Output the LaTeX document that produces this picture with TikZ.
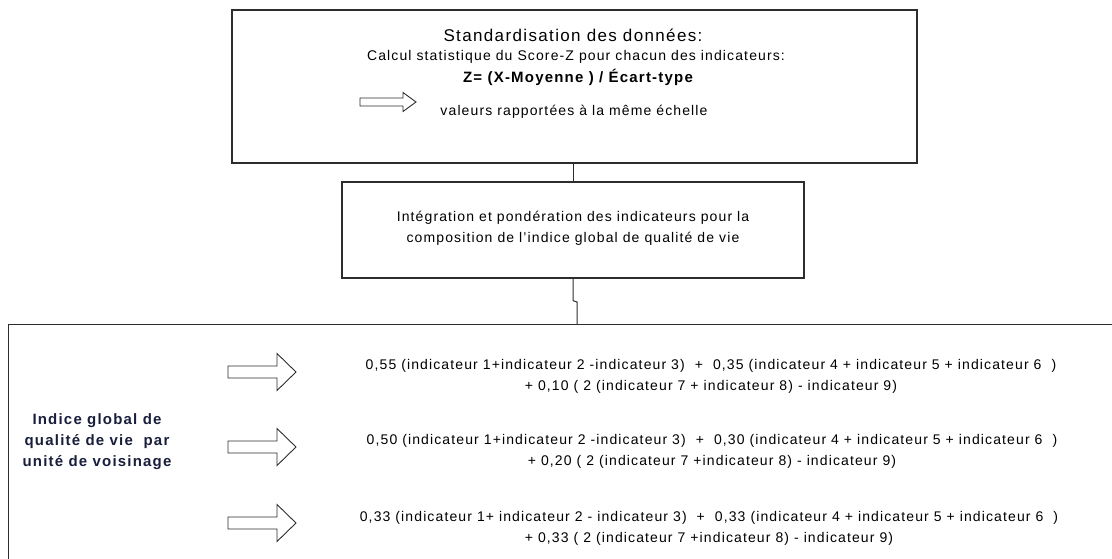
\documentclass[tikz,border=0pt]{standalone}
\usepackage{fontspec}
\setmainfont[LetterSpace=8]{Liberation Sans}
\usepackage{tikz}
\definecolor{darknavy}{RGB}{25,30,60}
\definecolor{linegray}{RGB}{45,45,45}
\tikzset{
	boxline/.style={draw=linegray,line width=1.4pt},
	link/.style={draw=linegray,line width=1pt},
	arrowline/.style={draw=linegray,line width=0.9pt,fill=white,line join=miter},
	plain/.style={inner sep=0pt,align=center,font=\fontsize{14}{21}\selectfont},
	heading/.style={inner sep=0pt,font=\fontsize{17}{21}\selectfont},
	strong/.style={inner sep=0pt,align=center,text=darknavy,font=\fontsize{15}{21}\selectfont\bfseries},
	pics/widearrow/.style={code={
		\draw[arrowline] (-34,-6) -- (15,-6) -- (15,-18.5) -- (34,0) -- (15,18.5) -- (15,6) -- (-34,6) -- cycle;
	}},
	pics/thinarrow/.style={code={
		\draw[arrowline] (-28,-4) -- (15,-4) -- (15,-9.5) -- (28,0) -- (15,9.5) -- (15,4) -- (-28,4) -- cycle;
	}}
}

\begin{document}
\begin{tikzpicture}[x=1pt,y=-1pt]
				\useasboundingbox (0,0) rectangle (1112,559);
				\clip (0,0) rectangle (1112,559);
				
				%Boxes
				\node[boxline,minimum width=685,minimum height=153,inner sep=0pt] (topbox) at (574.5,86.5) {};
				\node[boxline,minimum width=462,minimum height=96,inner sep=0pt] (midbox) at (573,230) {};
				\node[boxline,anchor=north west,minimum width=1140,minimum height=280,inner sep=0pt] (bottombox) at (8,324) {};
				
				%Nodes
				\node[heading] (title) at (573,35) {Standardisation des données:};
				\node[plain] (calcul) at (576,57) {Calcul statistique du Score-Z pour chacun des indicateurs:};
				\node[strong,text=black] (zscore) at (578,77) {Z= (X-Moyenne ) / Écart-type};
				\node[plain] (valeurs) at (574,112) {valeurs rapportées à la même échelle};
				\node[plain] (integration) at (573,228) {Intégration et pondération des indicateurs pour la\\composition de l'indice global de qualité de vie};
				
				\node[strong] (indice) at (97,442) {Indice global de\\qualité de vie~~par\\unité de voisinage};
				\node[plain] (formuleA) at (711,376) {0,55 (indicateur 1+indicateur 2 -indicateur 3)~~+~~0,35 (indicateur 4 + indicateur 5 + indicateur 6~~)\\+ 0,10 ( 2 (indicateur 7 + indicateur 8) - indicateur 9)};
				\node[plain] (formuleB) at (712,451) {0,50 (indicateur 1+indicateur 2 -indicateur 3)~~+~~0,30 (indicateur 4 + indicateur 5 + indicateur 6~~)\\+ 0,20 ( 2 (indicateur 7 +indicateur 8) - indicateur 9)};
				\node[plain] (formuleC) at (709,528) {0,33 (indicateur 1+ indicateur 2 - indicateur 3)~~+~~0,33 (indicateur 4 + indicateur 5 + indicateur 6~~)\\+ 0,33 ( 2 (indicateur 7 +indicateur 8) - indicateur 9)};
				\coordinate      (jog) 	at 	(577,302);
				
				%Arrows
				\pic at (388,102) {thinarrow};
				\pic at (262,372) {widearrow};
				\pic at (262,447) {widearrow};
				\pic at (262,523) {widearrow};
				
				%Lines
				\draw[link] (topbox.south -| midbox.north) -- (midbox.north);
				\draw[link] (midbox.south) -- ++(0,22) -- (jog) -- (jog |- bottombox.north);

		\end{tikzpicture}
\end{document}
